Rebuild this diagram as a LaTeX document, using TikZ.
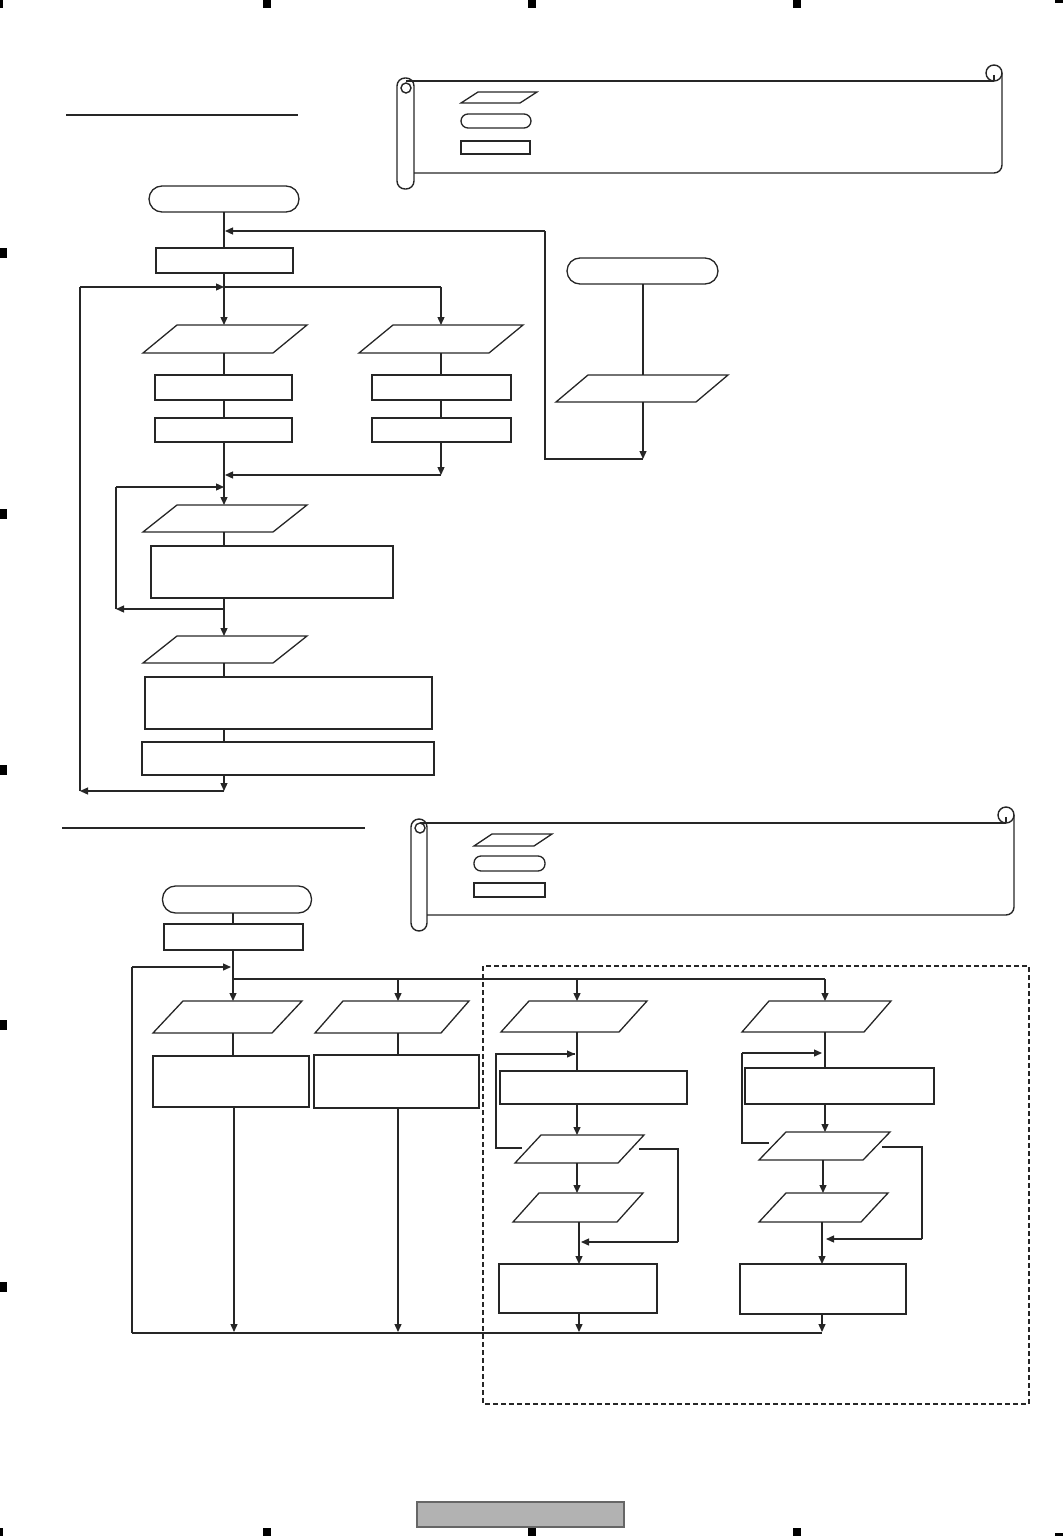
\documentclass[tikz,border=0pt]{standalone}
\usetikzlibrary{arrows.meta}
\newcommand\mypara[2]{\draw[pline] ([xshift=#2]#1.north west) -- (#1.north east) -- ([xshift=-#2]#1.south east) -- (#1.south west) -- cycle;}
\begin{document}
\begin{tikzpicture}[x=0.5pt,y=-0.5pt,
  ln/.style={draw=black!85, line width=0.65pt},
  pline/.style={draw=black!85, line width=0.65pt},
  thinbox/.style={draw=black!85, line width=0.6pt, inner sep=0pt, outer sep=0pt},
  thickbox/.style={draw=black!85, line width=1.1pt, inner sep=0pt, outer sep=0pt},
  term/.style={draw=black!85, line width=0.65pt, rounded corners=6.5pt, inner sep=0pt, outer sep=0pt},
  smallterm/.style={draw=black!85, line width=0.65pt, rounded corners=3.5pt, inner sep=0pt, outer sep=0pt},
  ghost/.style={inner sep=0pt, outer sep=0pt},
  wh/.style 2 args={minimum width=#1*0.5pt, minimum height=#2*0.5pt},
  arr/.style={ln, -{Triangle[length=4pt,width=3.5pt]}},
  bus/.style={draw=black!85, line width=1pt},
  midln/.style={draw=black!85, line width=0.9pt},
  blk/.style={fill=black},
  scroll/.style={draw=black!85, line width=0.7pt}
]
\useasboundingbox (0,0) rectangle (1063,1536);

% ---------- edge marks ----------
\fill[blk] (0,0) rectangle (3,8);
\fill[blk] (1055,0) rectangle (1063,3);
\fill[blk] (0,1528) rectangle (3,1536);
\fill[blk] (1055,1533) rectangle (1063,1536);
\foreach \xx in {263,528,793} {
  \fill[blk] (\xx,0) rectangle (\xx+8,8);
  \fill[blk] (\xx,1528) rectangle (\xx+8,1536);
}
\foreach \yy in {248,509,765,1020,1282} {
  \fill[blk] (0,\yy) rectangle (7,\yy+10);
}
\filldraw[fill=black!30, draw=black!60, line width=0.7pt] (417,1502) rectangle (624,1527);

% ---------- underlines ----------
\draw[ln] (66,115) -- (298,115);
\draw[ln] (62,828) -- (365,828);

% ---------- scroll 1 ----------
\draw[scroll, rounded corners=4pt] (397,78) rectangle (414,189);
\draw[scroll] (406,88) circle (5);
\draw[scroll] (406,81) -- (994,81);
\draw[scroll] (994,73) circle (8);
\draw[scroll] (994,75) -- (994,81);
\draw[scroll, rounded corners=4pt] (1002,73) -- (1002,173) -- (414,173);
\node[ghost, wh={76}{11}] (LP1) at (499,97.5) {};
\mypara{LP1}{8.5pt}
\node[smallterm, wh={70}{14}] (LR1) at (496,121) {};
\node[thickbox, wh={69}{13}] (LB1) at (495.5,147.5) {};

% ---------- scroll 2 ----------
\draw[scroll, rounded corners=4pt] (411,819) rectangle (427,931);
\draw[scroll] (420,828) circle (5);
\draw[scroll] (420,823) -- (1006,823);
\draw[scroll] (1006,815) circle (8);
\draw[scroll] (1006,817) -- (1006,823);
\draw[scroll, rounded corners=4pt] (1014,815) -- (1014,915) -- (427,915);
\node[ghost, wh={78}{12}] (LP2) at (513,840) {};
\mypara{LP2}{9pt}
\node[smallterm, wh={71}{15}] (LR2) at (509.5,863.5) {};
\node[thinbox, line width=0.8pt, wh={71}{14}] (LB2) at (509.5,890) {};

% ---------- top flowchart nodes ----------
\node[term, wh={150}{26}] (T1) at (224,199) {};
\node[thickbox, wh={137}{25}] (R1) at (224.5,260.5) {};
\node[ghost, wh={164}{28}] (PL1) at (225,339) {};
\mypara{PL1}{17pt}
\node[ghost, wh={164}{28}] (PR1) at (441,339) {};
\mypara{PR1}{17pt}
\node[thickbox, wh={137}{25}] (RL2) at (223.5,387.5) {};
\node[thickbox, wh={139}{25}] (RR2) at (441.5,387.5) {};
\node[thinbox, wh={137}{24}] (RL3) at (223.5,430) {};
\node[thickbox, wh={139}{24}] (RR3) at (441.5,430) {};
\node[ghost, wh={164}{27}] (P3) at (225,518.5) {};
\mypara{P3}{17pt}
\node[thinbox, line width=0.8pt, wh={242}{52}] (R4) at (272,572) {};
\node[ghost, wh={164}{27}] (P4) at (225,649.5) {};
\mypara{P4}{17pt}
\node[thinbox, line width=0.8pt, wh={287}{52}] (R5) at (288.5,703) {};
\node[thinbox, line width=0.8pt, wh={292}{33}] (R6) at (288,758.5) {};
\node[term, wh={151}{26}] (TR) at (642.5,271) {};
\node[ghost, wh={172}{27}] (PR) at (642,388.5) {};
\mypara{PR}{16pt}

% ---------- top connectors ----------
\coordinate (ax) at (224,0);
\coordinate (rx) at (643,0);
\coordinate (jA) at (225,231);
\coordinate (jB) at (224,287);
\coordinate (lB) at (80,287);
\coordinate (rB) at (441,287);
\coordinate (jC) at (225,475);
\coordinate (rC) at (441,475);
\coordinate (jD) at (224,487);
\coordinate (lD) at (116,487);
\coordinate (jE) at (224,609);
\coordinate (lE) at (116,609);
\coordinate (jF) at (224,791);
\coordinate (lF) at (80,791);
\coordinate (rq1) at (643,459);
\coordinate (rq2) at (545,459);
\coordinate (rq3) at (545,231);

\draw[ln] (ax|-T1.south) -- (ax|-R1.north);
\draw[ln] (ax|-R1.south) -- (jB);
\draw[arr] (jB) -- (ax|-PL1.north);
\draw[arr] (lB) -- (jB);
\draw[ln] (jB) -- (rB);
\draw[arr] (rB) -- (rB|-PR1.north);
\draw[ln] (ax|-PL1.south) -- (ax|-RL2.north);
\draw[ln] (ax|-RL2.south) -- (ax|-RL3.north);
\draw[ln] (rB|-PR1.south) -- (rB|-RR2.north);
\draw[ln] (rB|-RR2.south) -- (rB|-RR3.north);
\draw[arr] (rB|-RR3.south) -- (rC);
\draw[arr] (rC) -- (jC);
\draw[ln] (ax|-RL3.south) -- (jD);
\draw[arr] (jD) -- (ax|-P3.north);
\draw[ln] (lE) -- (lD);
\draw[arr] (lD) -- (jD);
\draw[arr] (jE) -- (lE);
\draw[ln] (ax|-P3.south) -- (ax|-R4.north);
\draw[arr] (ax|-R4.south) -- (ax|-P4.north);
\draw[ln] (ax|-P4.south) -- (ax|-R5.north);
\draw[ln] (ax|-R5.south) -- (ax|-R6.north);
\draw[arr] (ax|-R6.south) -- (jF);
\draw[arr] (jF) -- (lF);
\draw[ln] (lF) -- (lB);
\draw[ln] (rx|-TR.south) -- (rx|-PR.north);
\draw[arr] (rx|-PR.south) -- (rq1);
\draw[ln] (rq1) -- (rq2) -- (rq3);
\draw[arr] (rq3) -- (jA);

% ---------- bottom flowchart nodes ----------
\node[term, wh={149}{27}] (T2) at (237,899.5) {};
\node[thickbox, wh={139}{26}] (R7) at (233.5,937) {};
\node[ghost, wh={149}{32}] (PB1) at (227.5,1017) {};
\mypara{PB1}{15pt}
\node[ghost, wh={154}{32}] (PB2) at (392,1017) {};
\mypara{PB2}{14pt}
\node[thickbox, wh={156}{51}] (RB1) at (231,1081.5) {};
\node[thinbox, wh={165}{53}] (RB2) at (396.5,1081.5) {};
\node[ghost, wh={146}{31}] (PC1) at (574,1016.5) {};
\mypara{PC1}{14pt}
\node[ghost, wh={149}{31}] (PD1) at (816.5,1016.5) {};
\mypara{PD1}{13.5pt}
\node[thickbox, wh={187}{33}] (RC2) at (593.5,1087.5) {};
\node[thickbox, wh={189}{36}] (RD2) at (839.5,1086) {};
\node[ghost, wh={129}{28}] (PC3) at (579.5,1149) {};
\mypara{PC3}{13pt}
\node[ghost, wh={131}{28}] (PD3) at (824.5,1146) {};
\mypara{PD3}{13.5pt}
\node[ghost, wh={130}{29}] (PC4) at (578,1207.5) {};
\mypara{PC4}{13pt}
\node[ghost, wh={129}{29}] (PD4) at (823.5,1207.5) {};
\mypara{PD4}{13.5pt}
\node[thickbox, wh={158}{49}] (RC5) at (578,1288.5) {};
\node[thinbox, wh={166}{50}] (RD5) at (823,1289) {};

% ---------- dashed box ----------
\draw[draw=black!85, line width=0.6pt, dash pattern=on 2.5pt off 1.5pt] (483,966) rectangle (1029,1404);

% ---------- bottom connectors ----------
\coordinate (bx) at (233,0);
\coordinate (b1) at (233,979);
\coordinate (b2) at (398,979);
\coordinate (b3) at (577,979);
\coordinate (b4) at (825,979);
\coordinate (cc) at (579,0);
\coordinate (dd) at (823,0);
\coordinate (ee) at (822,0);
\coordinate (lp1) at (132,967);
\coordinate (lp2) at (231,967);
\coordinate (lp3) at (132,1333);
\coordinate (bb4) at (822,1333);
\coordinate (e1) at (234,1332);
\coordinate (e2) at (398,1332);
\coordinate (e3) at (579,1332);
\coordinate (e4) at (822,1332);
\coordinate (cl1) at (522,1148);
\coordinate (cl2) at (496,1148);
\coordinate (cl3) at (496,1054);
\coordinate (cl4) at (575,1054);
\coordinate (cb1) at (639,1149);
\coordinate (cb2) at (678,1149);
\coordinate (cb3) at (678,1242);
\coordinate (cb4) at (581,1242);
\coordinate (dl1) at (769,1143);
\coordinate (dl2) at (742,1143);
\coordinate (dl3) at (742,1053);
\coordinate (dl4) at (822,1053);
\coordinate (db1) at (882,1147);
\coordinate (db2) at (922,1147);
\coordinate (db3) at (922,1239);
\coordinate (db4) at (826,1239);

\draw[ln] (bx|-T2.south) -- (bx|-R7.north);
\draw[ln] (bx|-R7.south) -- (b1);
\draw[bus] (b1) -- (b4);
\draw[arr] (b1) -- (bx|-PB1.north);
\draw[arr] (b2) -- (b2|-PB2.north);
\draw[arr] (b3) -- (b3|-PC1.north);
\draw[arr] (b4) -- (b4|-PD1.north);
\draw[ln] (lp3) -- (lp1);
\draw[arr] (lp1) -- (lp2);
\draw[bus] (lp3) -- (bb4);
% column A
\draw[ln] (bx|-PB1.south) -- (bx|-RB1.north);
\draw[arr] (e1|-RB1.south) -- (e1);
% column B
\draw[ln] (b2|-PB2.south) -- (b2|-RB2.north);
\draw[arr] (b2|-RB2.south) -- (e2);
% column C
\draw[ln] (b3|-PC1.south) -- (b3|-RC2.north);
\draw[arr] (b3|-RC2.south) -- (b3|-PC3.north);
\draw[arr] (b3|-PC3.south) -- (b3|-PC4.north);
\draw[arr] (cc|-PC4.south) -- (cc|-RC5.north);
\draw[arr] (cc|-RC5.south) -- (e3);
\draw[midln] (cl1) -- (cl2) -- (cl3) -- (cl4);
\draw[arr] (cl3) -- (cl4);
\draw[ln] (cb1) -- (cb2) -- (cb3);
\draw[arr] (cb3) -- (cb4);
% column D
\draw[ln] (b4|-PD1.south) -- (b4|-RD2.north);
\draw[arr] (b4|-RD2.south) -- (b4|-PD3.north);
\draw[arr] (dd|-PD3.south) -- (dd|-PD4.north);
\draw[arr] (ee|-PD4.south) -- (ee|-RD5.north);
\draw[arr] (ee|-RD5.south) -- (e4);
\draw[ln] (dl1) -- (dl2) -- (dl3);
\draw[arr] (dl3) -- (dl4);
\draw[ln] (db1) -- (db2) -- (db3);
\draw[arr] (db3) -- (db4);
\end{tikzpicture}
\end{document}
